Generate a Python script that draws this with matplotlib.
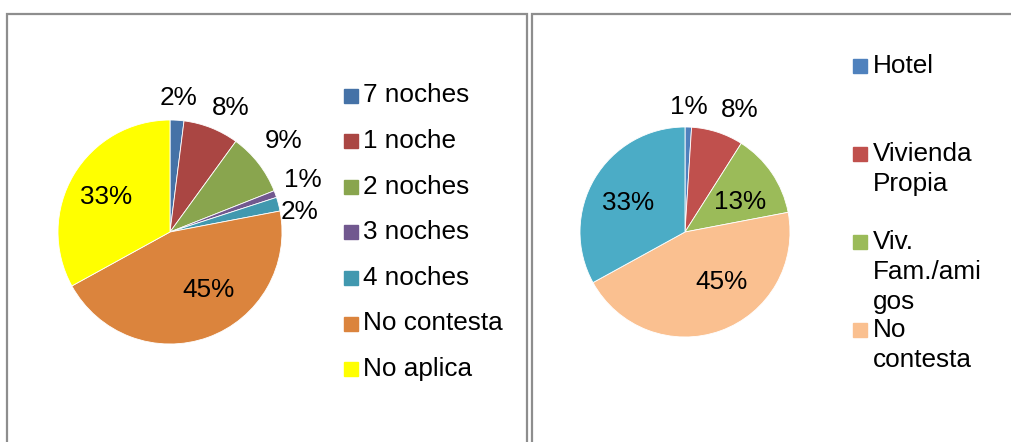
import matplotlib.pyplot as plt
from matplotlib.patches import Rectangle
import numpy as np

plt.rcParams['font.family'] = ['Liberation Sans', 'DejaVu Sans']

W, H = 1011, 442

# Noches de estancia
noches_labels = ['7 noches', '1 noche', '2 noches', '3 noches', '4 noches',
                 'No contesta', 'No aplica']
noches_values = [2, 8, 9, 1, 2, 45, 33]
noches_colors = ['#4572A7', '#AA4643', '#89A54E', '#71588F', '#4198AF',
                 '#DB843D', '#FFFF00']

# Tipo de alojamiento (la leyenda solo muestra cuatro entradas)
aloj_labels = ['Hotel', 'Vivienda\nPropia', 'Viv.\nFam./ami\ngos', 'No\ncontesta']
aloj_values = [1, 8, 13, 45, 33]
aloj_colors = ['#4F81BD', '#C0504D', '#9BBB59', '#FAC090', '#4BACC6']

FS = 18.8


def fx(px):
    return px / W


def fy(py):
    return 1 - py / H


def draw_pie(ax, values, colors, dist, shift):
    wedges, _ = ax.pie(values, colors=colors, startangle=90, counterclock=False,
                       wedgeprops=dict(edgecolor='white', linewidth=0.6))
    ax.set_xlim(-1, 1)
    ax.set_ylim(-1, 1)
    for w, v, r, s in zip(wedges, values, dist, shift):
        ang = np.deg2rad((w.theta1 + w.theta2) / 2 + s)
        ax.text(r * np.cos(ang), r * np.sin(ang), f'{v}%', ha='center',
                va='center', fontsize=FS)


fig = plt.figure(figsize=(W / 100, H / 100), dpi=100)

# panel frames
for x0, x1 in [(7, 527), (532, 1030)]:
    fig.add_artist(Rectangle((fx(x0), fy(460)), fx(x1 - x0), (460 - 14) / H,
                             transform=fig.transFigure, fill=False,
                             edgecolor='#8E8E8E', linewidth=1.6))

ax1 = fig.add_axes([fx(58), fy(344), fx(224), 224 / H])
draw_pie(ax1, noches_values, noches_colors,
         dist=[1.2, 1.23, 1.3, 1.27, 1.17, 0.62, 0.65],
         shift=[0, -4.6, 1, 1.6, -5.7, 13.4, 1.6])

ax2 = fig.add_axes([fx(580), fy(337), fx(210), 210 / H])
draw_pie(ax2, aloj_values, aloj_colors,
         dist=[1.19, 1.27, 0.6, 0.59, 0.61],
         shift=[0, -6, -5.6, 16.7, 3.6])

# legend, left panel
for i, (lab, col) in enumerate(zip(noches_labels, noches_colors)):
    yc = 95.5 + i * 45.6
    fig.add_artist(Rectangle((fx(344), fy(yc + 7)), fx(14), 14 / H,
                             transform=fig.transFigure, color=col))
    fig.text(fx(363), fy(yc), lab, fontsize=FS, va='center', ha='left')

# legend, right panel
for i, (lab, col) in enumerate(zip(aloj_labels, aloj_colors)):
    yc = 66 + i * 88
    fig.add_artist(Rectangle((fx(853), fy(yc + 7)), fx(14), 14 / H,
                             transform=fig.transFigure, color=col))
    for j, line in enumerate(lab.split('\n')):
        fig.text(fx(873), fy(yc + j * 30), line, fontsize=FS, va='center',
                 ha='left')

fig.savefig('out.png', dpi=100)
